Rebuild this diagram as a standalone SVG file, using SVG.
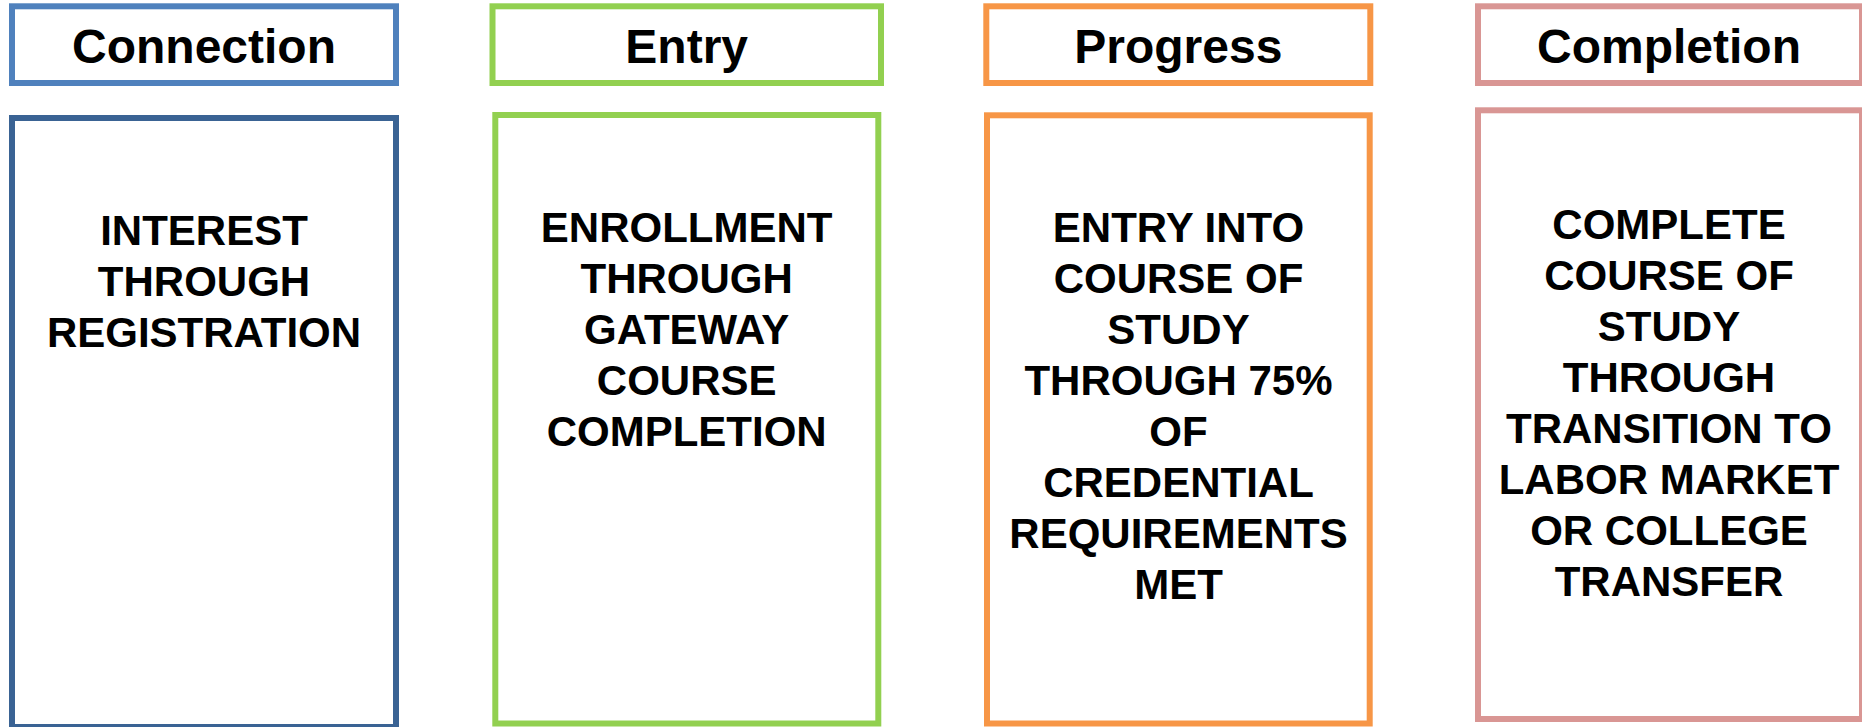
<svg xmlns="http://www.w3.org/2000/svg" width="1862" height="727" viewBox="0 0 1862 727">
<style>
rect{fill:#FFFFFF;stroke-width:6}
.h{font-family:"Liberation Sans",Arial,sans-serif;font-weight:bold;font-size:48px;fill:#000;text-anchor:middle}
.b{font-family:"Liberation Sans",Arial,sans-serif;font-weight:bold;font-size:42px;fill:#000;text-anchor:middle}
.c1h{stroke:#4F81BD}.c1b{stroke:#3A6394}
.c2{stroke:#92D050}.c3{stroke:#F79646}.c4{stroke:#D99694}
</style>
<rect x="0" y="0" width="1862" height="727" style="fill:#FFFFFF;stroke:none"/>
<g id="connection-header"><rect class="c1h" x="12" y="6.3" width="384" height="76.7"/><text class="h" x="204" y="63">Connection</text></g>
<g id="entry-header"><rect class="c2" x="492.5" y="6.3" width="388.5" height="76.7"/><text class="h" x="686.7" y="63">Entry</text></g>
<g id="progress-header"><rect class="c3" x="986.3" y="6.3" width="384" height="76.7"/><text class="h" x="1178.3" y="63">Progress</text></g>
<g id="completion-header"><rect class="c4" x="1478" y="6.3" width="384" height="76.7"/><text class="h" x="1669" y="63">Completion</text></g>
<g id="connection-body"><rect class="c1b" x="12" y="118" width="384" height="609"/>
<text class="b" x="204" y="245">INTEREST</text><text class="b" x="204" y="296">THROUGH</text><text class="b" x="204" y="347">REGISTRATION</text></g>
<g id="entry-body"><rect class="c2" x="495.3" y="115" width="383" height="608.5"/>
<text class="b" x="686.7" y="242">ENROLLMENT</text><text class="b" x="686.7" y="293">THROUGH</text><text class="b" x="686.7" y="344">GATEWAY</text><text class="b" x="686.7" y="395">COURSE</text><text class="b" x="686.7" y="446">COMPLETION</text></g>
<g id="progress-body"><rect class="c3" x="987" y="115.3" width="382.7" height="608.2"/>
<text class="b" x="1178.5" y="242">ENTRY INTO</text><text class="b" x="1178.5" y="293">COURSE OF</text><text class="b" x="1178.5" y="344">STUDY</text><text class="b" x="1178.5" y="395">THROUGH 75%</text><text class="b" x="1178.5" y="446">OF</text><text class="b" x="1178.5" y="497">CREDENTIAL</text><text class="b" x="1178.5" y="548">REQUIREMENTS</text><text class="b" x="1178.5" y="599">MET</text></g>
<g id="completion-body"><rect class="c4" x="1478" y="110.3" width="384" height="608.7"/>
<text class="b" x="1669" y="239">COMPLETE</text><text class="b" x="1669" y="290">COURSE OF</text><text class="b" x="1669" y="341">STUDY</text><text class="b" x="1669" y="392">THROUGH</text><text class="b" x="1669" y="443">TRANSITION TO</text><text class="b" x="1669" y="494">LABOR MARKET</text><text class="b" x="1669" y="545">OR COLLEGE</text><text class="b" x="1669" y="596">TRANSFER</text></g>
<g id="connectors"/>
</svg>
